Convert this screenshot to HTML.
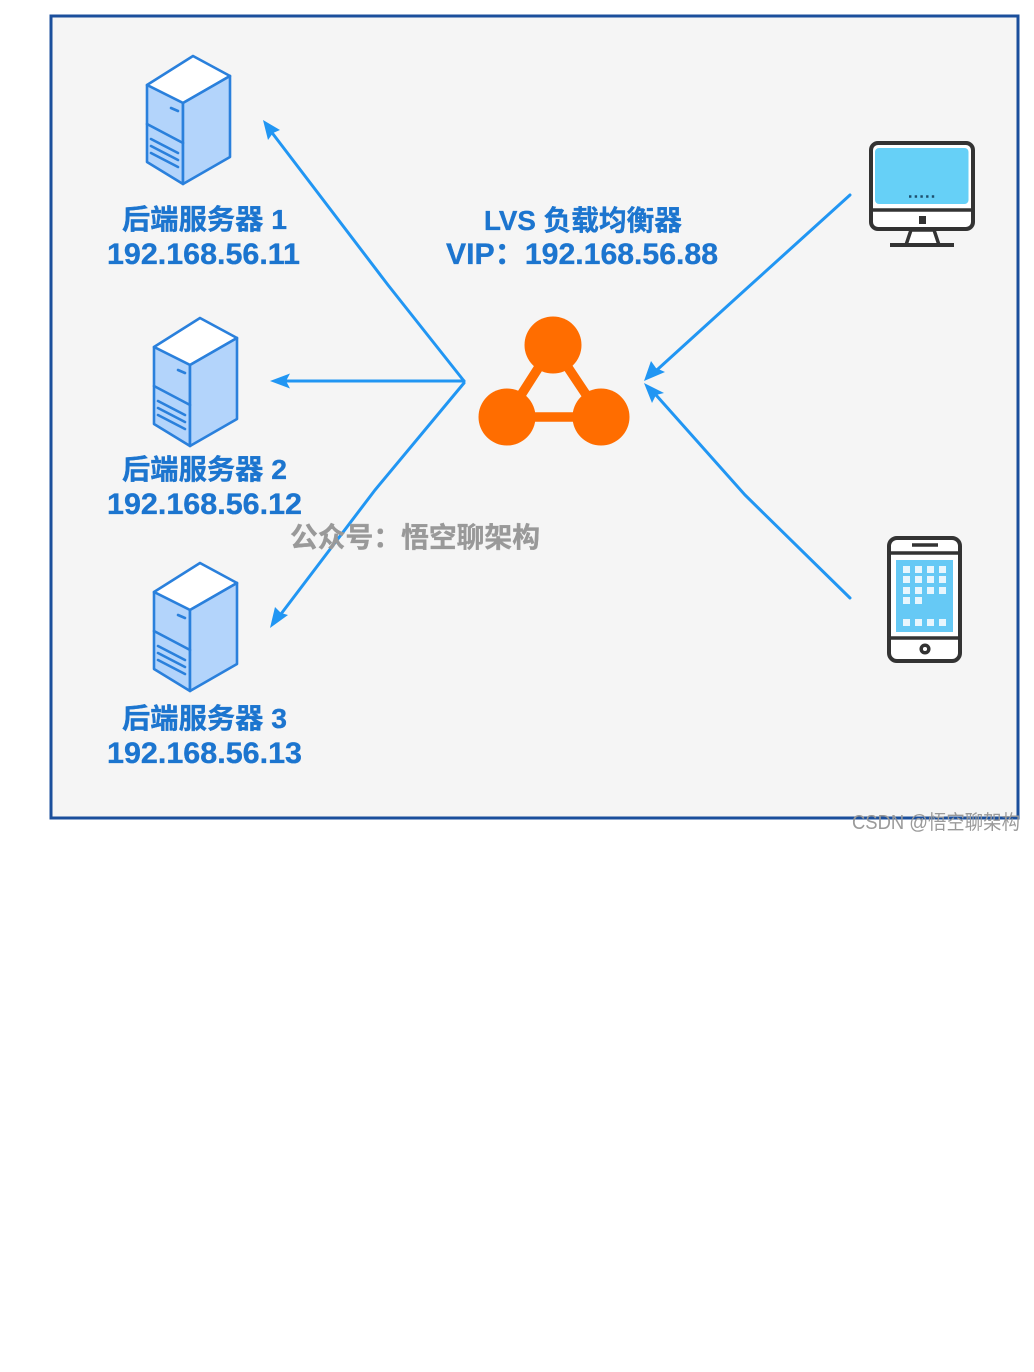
<!DOCTYPE html>
<html lang="zh-CN">
<head>
<meta charset="utf-8">
<style>
html,body{margin:0;padding:0;background:#fff;width:1034px;height:1372px;overflow:hidden}
svg{display:block}
.t{font-family:"Liberation Sans","Noto Sans CJK SC",sans-serif;font-weight:700;font-size:28px;fill:#1c75cf;stroke:#1c75cf;stroke-width:.35px}
.n{font-size:30px}
</style>
</head>
<body>
<svg width="1034" height="1372" viewBox="0 0 1034 1372" xmlns="http://www.w3.org/2000/svg">
<defs>
<g id="srv" stroke="#2a80dc" stroke-width="2.6" stroke-linejoin="round" stroke-linecap="round">
<path d="M193 56 L230 76 L183 103 L147 85 Z" fill="#fff"/>
<path d="M147 85 L183 103 V184 L147 162 Z" fill="#b3d4fb"/>
<path d="M183 103 L230 76 V157 L183 184 Z" fill="#b3d4fb"/>
<path d="M147 124 L183 143 M151 139 L178 153 M151 146 L178 160 M151 153 L178 167 M171 108 L178 111" fill="none"/>
</g>
</defs>

<rect x="51" y="16" width="967" height="802" fill="#f5f5f5" stroke="#1b4f9c" stroke-width="3"/>

<use href="#srv"/>
<use href="#srv" transform="translate(7 262)"/>
<use href="#srv" transform="translate(7 507)"/>

<text class="t" x="122" y="229" textLength="165" lengthAdjust="spacingAndGlyphs">后端服务器 1</text>
<text class="t n" x="107" y="264" textLength="193" lengthAdjust="spacingAndGlyphs">192.168.56.11</text>
<text class="t" x="122" y="479" textLength="165" lengthAdjust="spacingAndGlyphs">后端服务器 2</text>
<text class="t n" x="107" y="514" textLength="195" lengthAdjust="spacingAndGlyphs">192.168.56.12</text>
<text class="t" x="122" y="728" textLength="165" lengthAdjust="spacingAndGlyphs">后端服务器 3</text>
<text class="t n" x="107" y="763" textLength="195" lengthAdjust="spacingAndGlyphs">192.168.56.13</text>
<text class="t" x="484" y="230" textLength="198" lengthAdjust="spacingAndGlyphs">LVS 负载均衡器</text>
<text class="t n" x="446" y="264" textLength="272" lengthAdjust="spacingAndGlyphs">VIP&#xFF1A;192.168.56.88</text>

<g fill="none" stroke="#2196f3" stroke-width="3" stroke-linecap="round">
<path d="M464 381 L388 285 L273 134" />
<path d="M464 381 L285 381" />
<path d="M464 383 L375 490 L281 614" />
<path d="M850 195 L745 290 L658 369" />
<path d="M850 598 L745 495 L656 395" />
</g>
<g fill="#2196f3">
<path d="M263 120 L280 130 L273 133 L268 140 Z"/>
<path d="M270 381 L290 373.500 L286 381 L290 388.500 Z"/>
<path d="M270 628 L275 607 L281 613 L288 615 Z"/>
<path d="M644 381 L651 361 L656 368 L665 372 Z"/>
<path d="M644 383 L664 393 L656 395 L652 403 Z"/>
</g>

<g>
<path d="M553 345 L507 417 H601 Z" fill="none" stroke="#ff6d00" stroke-width="9.5"/>
<circle cx="553" cy="345" r="28.500" fill="#ff6d00"/>
<circle cx="507" cy="417" r="28.500" fill="#ff6d00"/>
<circle cx="601" cy="417" r="28.500" fill="#ff6d00"/>
</g>

<!-- monitor -->
<g>
<path d="M911 230 L906 245 H939 L934 230 Z" fill="#fff" stroke="#333" stroke-width="3.500"/>
<rect x="871" y="143" width="102" height="86" rx="7" fill="#fff" stroke="#333" stroke-width="4"/>
<rect x="875" y="148" width="93.500" height="56" rx="4" fill="#66d0f7"/>
<path d="M870 210 H974" stroke="#333" stroke-width="3.500"/>
<rect x="919" y="216" width="7" height="8" fill="#333"/>
<path d="M890 245 H954" stroke="#333" stroke-width="4"/>
<path d="M909 196.500 H936" stroke="#1d4f6e" stroke-width="2.400" stroke-dasharray="2.400 3.300"/>
</g>

<!-- phone -->
<g>
<rect x="889" y="538" width="71" height="123" rx="8" fill="#fff" stroke="#333" stroke-width="4"/>
<path d="M888 553 H961 M888 638 H961" stroke="#333" stroke-width="3.500"/>
<path d="M912 545 H938" stroke="#333" stroke-width="3.500"/>
<rect x="896" y="560" width="57" height="72" fill="#66c9f5"/>
<circle cx="925" cy="649" r="3.800" fill="#fff" stroke="#333" stroke-width="3.500"/>
<g fill="#e8f6fd">
<rect x="903" y="566" width="7" height="7"/><rect x="915" y="566" width="7" height="7"/><rect x="927" y="566" width="7" height="7"/><rect x="939" y="566" width="7" height="7"/>
<rect x="903" y="576" width="7" height="7"/><rect x="915" y="576" width="7" height="7"/><rect x="927" y="576" width="7" height="7"/><rect x="939" y="576" width="7" height="7"/>
<rect x="903" y="587" width="7" height="7"/><rect x="915" y="587" width="7" height="7"/><rect x="927" y="587" width="7" height="7"/><rect x="939" y="587" width="7" height="7"/>
<rect x="903" y="597" width="7" height="7"/><rect x="915" y="597" width="7" height="7"/>
<rect x="903" y="619" width="7" height="7"/><rect x="915" y="619" width="7" height="7"/><rect x="927" y="619" width="7" height="7"/><rect x="939" y="619" width="7" height="7"/>
</g>
</g>

<text x="290" y="547" textLength="250" lengthAdjust="spacingAndGlyphs" style="font-family:'Liberation Sans','Noto Sans CJK SC',sans-serif;font-weight:700;font-size:28px;fill:#999;stroke:#999;stroke-width:.35px">公众号&#xFF1A;悟空聊架构</text>
<text x="852" y="829" textLength="168" lengthAdjust="spacingAndGlyphs" style="font-family:'Liberation Sans','Noto Sans CJK SC',sans-serif;font-size:20px;fill:#9a9a9a;font-weight:400">CSDN @悟空聊架构</text>
</svg>
</body>
</html>
